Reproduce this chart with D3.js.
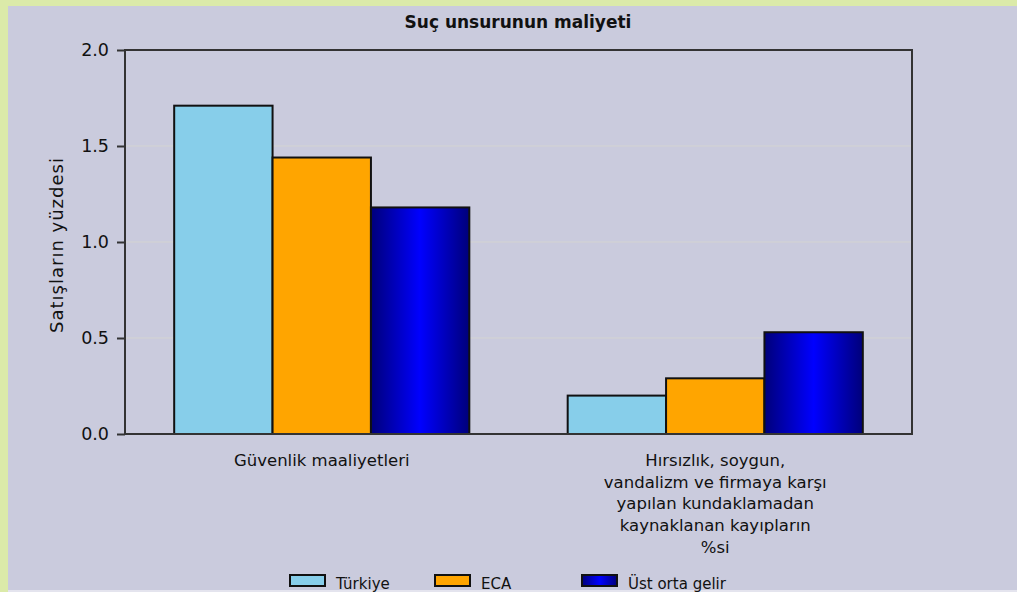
<!DOCTYPE html>
<html>
<head>
<meta charset="utf-8">
<script src="https://cdn.jsdelivr.net/npm/d3@7"></script>
<style>
  body { margin: 0; padding: 0; overflow: hidden; }
  text { font-family: "DejaVu Sans", sans-serif; fill: #111; }
</style>
</head>
<body>
<script>
//chart data
var categories = ["Güvenlik maaliyetleri", "Hırsızlık, soygun, vandalizm ve firmaya karşı yapılan kundaklamadan kaynaklanan kayıpların %si"];
var categoryLines = [
    ["Güvenlik maaliyetleri"],
    ["Hırsızlık, soygun,", "vandalizm ve firmaya karşı", "yapılan kundaklamadan", "kaynaklanan kayıpların", "%si"]
];
var seriesNames = ["Türkiye", "ECA", "Üst orta gelir"];
var turkiyeValues = [1.71, 0.20];
var ecaValues = [1.44, 0.29];
var ustOrtaValues = [1.18, 0.53];
var yTicks = [0.0, 0.5, 1.0, 1.5, 2.0];

var seriesValues = [turkiyeValues, ecaValues, ustOrtaValues];

window.onload = function(){
    var width = 1017, height = 592;
    var margin = {left: 125, right: 105, top: 50, bottom: 158};

    var svg = d3.select("body")
        .append("svg")
        .attr("width", width)
        .attr("height", height);

    var defs = svg.append("defs");
    //blue bar gradient, dark at the edges
    var grad = defs.append("linearGradient")
        .attr("id", "blueGrad")
        .attr("x1", "0%").attr("x2", "100%")
        .attr("y1", "0%").attr("y2", "0%");
    grad.append("stop").attr("offset", "0%").attr("stop-color", "#00007a");
    grad.append("stop").attr("offset", "50%").attr("stop-color", "#0000ff");
    grad.append("stop").attr("offset", "100%").attr("stop-color", "#00007a");

    var fills = ["#87ceea", "#ffa500", "url(#blueGrad)"];

    //green page background and lavender panel
    svg.append("rect")
        .attr("width", width).attr("height", height)
        .style("fill", "#dbeaa9");
    svg.append("rect")
        .attr("x", 8).attr("y", 6)
        .attr("width", width - 8).attr("height", 584)
        .style("fill", "#cacbdd");
    svg.append("rect")
        .attr("x", 8).attr("y", 590)
        .attr("width", width - 8).attr("height", 2)
        .style("fill", "#e4e4ee");

    var x0 = d3.scaleBand()
        .domain(d3.range(categories.length))
        .range([margin.left, width - margin.right])
        .paddingInner(0.25)
        .paddingOuter(0.125);

    var x1 = d3.scaleBand()
        .domain(d3.range(seriesNames.length))
        .range([0, x0.bandwidth()]);

    var y = d3.scaleLinear()
        .domain([0, 2])
        .range([height - margin.bottom, margin.top]);

    var plotRight = width - margin.right;

    //faint grid lines
    svg.selectAll(".grid")
        .data(yTicks.filter(function(d){ return d > 0 && d < 2; }))
        .enter()
        .append("line")
        .attr("class", "grid")
        .attr("x1", margin.left).attr("x2", plotRight)
        .attr("y1", function(d){ return y(d); })
        .attr("y2", function(d){ return y(d); })
        .style("stroke", "#d4d4d2")
        .style("stroke-width", 1);

    //bars
    var groups = svg.selectAll(".group")
        .data(categories)
        .enter()
        .append("g")
        .attr("class", "group")
        .attr("transform", function(d, i){ return "translate(" + x0(i) + ",0)"; });

    groups.selectAll("rect")
        .data(function(d, i){
            return seriesValues.map(function(s, j){ return {s: j, v: s[i]}; });
        })
        .enter()
        .append("rect")
        .attr("x", function(d){ return x1(d.s); })
        .attr("y", function(d){ return y(d.v); })
        .attr("width", x1.bandwidth())
        .attr("height", function(d){ return y(0) - y(d.v); })
        .style("fill", function(d){ return fills[d.s]; })
        .style("stroke", "#111")
        .style("stroke-width", 2);

    //frame
    svg.append("rect")
        .attr("x", margin.left).attr("y", margin.top)
        .attr("width", plotRight - margin.left)
        .attr("height", y(0) - margin.top)
        .style("fill", "none")
        .style("stroke", "#333")
        .style("stroke-width", 2);

    //y axis
    var yAxis = d3.axisLeft(y)
        .tickValues(yTicks)
        .tickFormat(d3.format(".1f"))
        .tickSize(8)
        .tickPadding(8);

    var axis = svg.append("g")
        .attr("class", "axis")
        .attr("transform", "translate(" + margin.left + ",0)")
        .call(yAxis);
    axis.select(".domain").remove();
    axis.selectAll("line").style("stroke", "#333").style("stroke-width", 2);
    axis.selectAll("text")
        .style("font-size", "17.5px")
        .style("fill", "#111");

    //y title
    svg.append("text")
        .attr("transform", "translate(63," + (y(1) + 3) + ") rotate(-90)")
        .attr("text-anchor", "middle")
        .style("font-size", "18px")
        .style("letter-spacing", "1px")
        .text("Satışların yüzdesi");

    //chart title
    svg.append("text")
        .attr("x", 518)
        .attr("y", 28)
        .attr("text-anchor", "middle")
        .style("font-size", "17px")
        .style("font-weight", "bold")
        .text("Suç unsurunun maliyeti");

    //category labels
    var catLabels = svg.selectAll(".catLabel")
        .data(categoryLines)
        .enter()
        .append("text")
        .attr("class", "catLabel")
        .attr("text-anchor", "middle")
        .attr("y", y(0) + 32)
        .style("font-size", "16.5px");

    catLabels.selectAll("tspan")
        .data(function(d, i){ return d.map(function(l){ return {line: l, i: i}; }); })
        .enter()
        .append("tspan")
        .attr("x", function(d){ return x0(d.i) + x0.bandwidth() / 2; })
        .attr("dy", function(d, k){ return k === 0 ? 0 : 21.7; })
        .text(function(d){ return d.line; });

    //legend
    var legendX = [290, 435, 582];
    var legend = svg.selectAll(".legend")
        .data(seriesNames)
        .enter()
        .append("g")
        .attr("class", "legend")
        .attr("transform", function(d, i){ return "translate(" + legendX[i] + ",575)"; });

    legend.append("rect")
        .attr("width", 35).attr("height", 11)
        .style("fill", function(d, i){ return fills[i]; })
        .style("stroke", "#111")
        .style("stroke-width", 2);

    legend.append("text")
        .attr("x", 46)
        .attr("y", 14)
        .style("font-size", "15px")
        .text(function(d){ return d; });
};
</script>
</body>
</html>
